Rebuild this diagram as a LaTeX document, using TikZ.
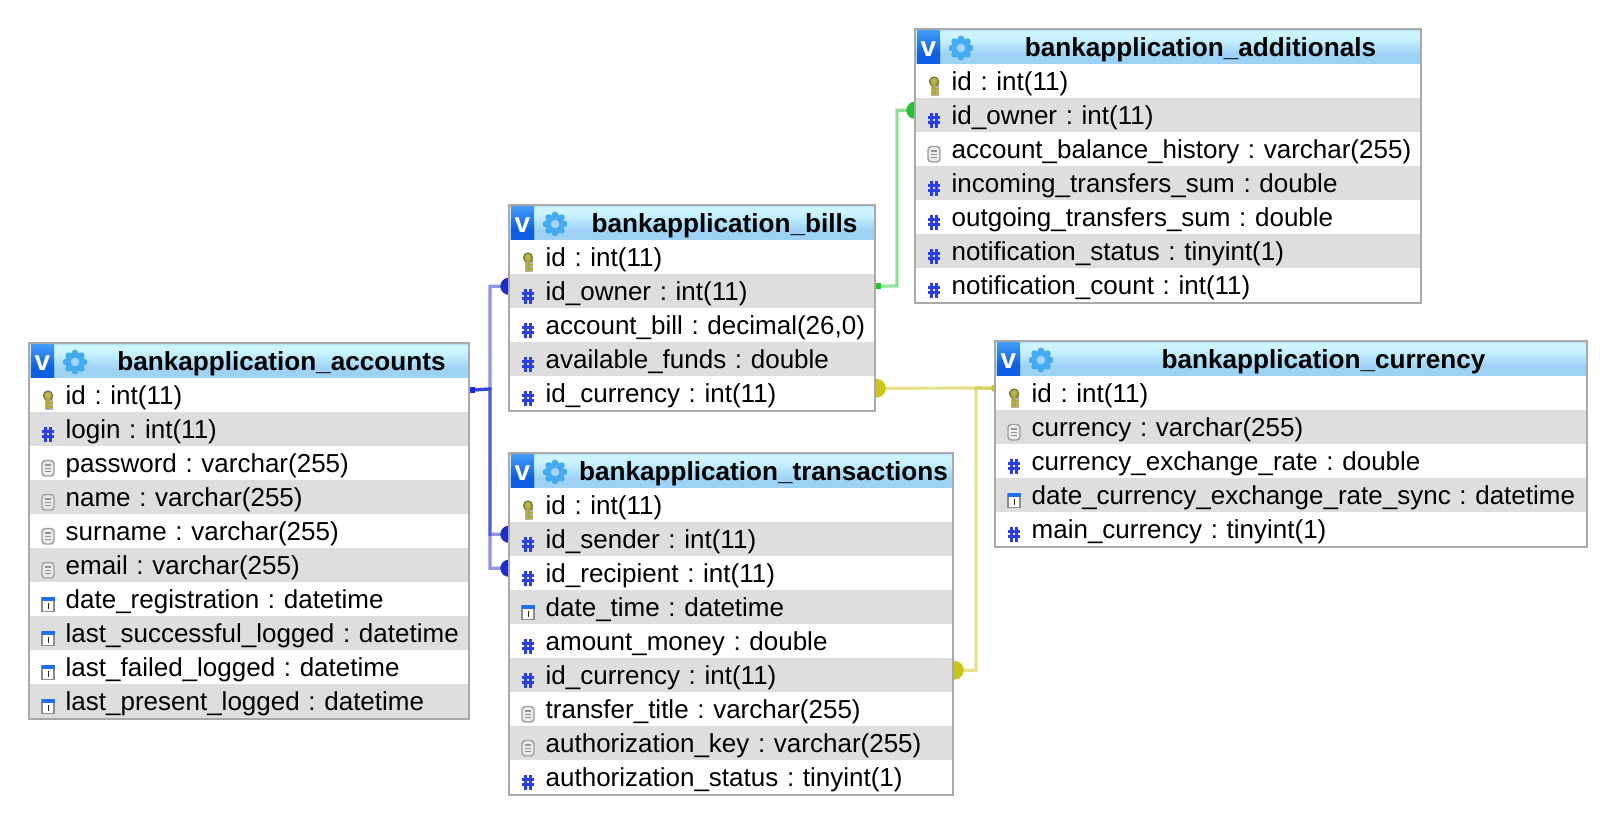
\documentclass[tikz,border=0pt]{standalone}
\usepackage{fontspec}
\setmainfont{Liberation Sans}
\usetikzlibrary{backgrounds}
\frenchspacing

\definecolor{rowgrey}{HTML}{DEDEDE}
\definecolor{tableedge}{HTML}{A9A9A9}
\definecolor{hashblue}{HTML}{2B3FE8}
\definecolor{gearblue}{HTML}{45ABF0}
\definecolor{fkblue}{HTML}{1E2CC8}
\definecolor{fkgreen}{HTML}{22C42E}
\definecolor{fkyellow}{HTML}{CBC41E}
\definecolor{headlow}{HTML}{9ED2F5}
\definecolor{headhigh}{HTML}{CDF5FF}
\definecolor{headtop}{HTML}{AADCF5}
\definecolor{badgelow}{HTML}{0E5EE2}
\definecolor{badgehigh}{HTML}{46A0FA}

\pgfdeclareverticalshading{headshade}{100bp}{
  color(0bp)=(headlow);
  color(38bp)=(headlow);
  color(64bp)=(headhigh);
  color(72bp)=(headhigh);
  color(75bp)=(headtop);
  color(100bp)=(headtop)}
\pgfdeclareverticalshading{badgeshade}{100bp}{
  color(0bp)=(badgelow);
  color(40bp)=(badgelow);
  color(75bp)=(badgehigh);
  color(100bp)=(badgehigh)}

\tikzset{
  x=0.75pt, y=-0.75pt,
  rowbox/.style={anchor=north west, inner sep=0pt, text height=19.5pt, text depth=6pt,
    align=left, font=\fontsize{19.5pt}{22pt}\selectfont},
  headbox/.style={anchor=north west, inner sep=0pt, shading=headshade, minimum height=25.5pt},
  headtext/.style={anchor=base, inner sep=0pt, font=\bfseries\fontsize{19.6pt}{22pt}\selectfont},
  tableframe/.style={draw=tableedge, line width=1.5pt},
  fkline/.style={line width=2.4pt, opacity=0.5},
  pics/keyicon/.style={code={
    \fill[black!30] (-3,-5) rectangle (5,10);
    \fill[black!60!yellow] (0,-4.5) circle (3.9pt);
    \fill[yellow!70!black] (0,-4.5) circle (2.7pt);
    \fill[black!30] (0,-5) circle (0.9pt);
    \fill[yellow!65!black] (-2,-1) rectangle (2,8.5);
    \fill[yellow!65!black] (2,2) rectangle (4.5,4);
    \fill[yellow!65!black] (2,5.5) rectangle (4.5,7.5);
  }},
  pics/hashicon/.style={code={
    \draw[hashblue, line width=1.9pt] (-2.7,-7.5) -- (-2.7,7.5) (2.7,-7.5) -- (2.7,7.5)
      (-6,-2.7) -- (6,-2.7) (-6,2.7) -- (6,2.7);
  }},
  pics/docicon/.style={code={
    \draw[black!38, fill=black!8, line width=1.1pt, rounded corners=2.5pt] (-6,-7.5) rectangle (6,8);
    \draw[black!42, line width=0.9pt] (-3,-3) -- (3,-3) (-3,0.2) -- (3,0.2) (-3,3.4) -- (3,3.4);
  }},
  pics/calicon/.style={code={
    \draw[black!45, fill=white, line width=1pt] (-6,-6.5) rectangle (6,7.5);
    \fill[hashblue!75!cyan] (-6.5,-7) rectangle (6.5,-3);
    \draw[black!85, line width=1.2pt] (0.5,-1) -- (0.5,5);
  }},
  pics/gearicon/.style={code={
    \foreach \a in {0,45,...,315} {
      \fill[gearblue] (\a:6.9pt) circle (2.4pt);
    }
    \fill[gearblue] (0,0) circle (7.2pt);
    \fill[gearblue!50!white] (0,0) circle (3.2pt);
  }},
}

% name, left, top, width, title, number of rows, rows
\newcommand{\dbtable}[7]{
  \node[headbox, minimum width={#4*0.75pt}] (#1-head) at (#2,#3) {};
  \fill[shading=badgeshade] (#2+2,#3) rectangle (#2+25,#3+35);
  \node[anchor=base, inner sep=0pt, text=white, font=\bfseries\fontsize{21pt}{22pt}\selectfont] (#1-badge) at (#2+13.5,#3+27) {v};
  \pic at (#2+46,#3+19) {gearicon};
  \node[headtext] (#1-title) at ({#2+33+#4/2},#3+27) {#5};
  \foreach \rowicon/\rowtext [count=\r from 1] in {#7} {
    \ifodd\r \def\rowfill{white}\else \def\rowfill{rowgrey}\fi
    \node[rowbox, fill=\rowfill, text width={#4*0.75pt}] (#1-\r) at (#2,{#3+35+(\r-1)*34}) {\hspace*{27.3pt}\rowtext};
    \pic at (#2+19,{#3+35+(\r-1)*34+22}) {\rowicon};
  }
  \draw[tableframe] (#1-head.north west) rectangle (#1-#6.south east);
}

\begin{document}
\begin{tikzpicture}
    \useasboundingbox (0,0) rectangle (1618,822);
    \def\portup{3.75pt}

    % Tables
    \dbtable{accounts}{29}{343}{439}{bankapplication\_accounts}{10}{
      keyicon/id : int(11), hashicon/login : int(11), docicon/password : varchar(255),
      docicon/name : varchar(255), docicon/surname : varchar(255), docicon/email : varchar(255),
      calicon/date\_registration : datetime, calicon/last\_successful\_logged : datetime,
      calicon/last\_failed\_logged : datetime, calicon/last\_present\_logged : datetime}
    \dbtable{bills}{509}{205}{365}{bankapplication\_bills}{5}{
      keyicon/id : int(11), hashicon/id\_owner : int(11), hashicon/{account\_bill : decimal(26,0)},
      hashicon/available\_funds : double, hashicon/id\_currency : int(11)}
    \dbtable{transactions}{509}{453}{443}{bankapplication\_transactions}{9}{
      keyicon/id : int(11), hashicon/id\_sender : int(11), hashicon/id\_recipient : int(11),
      calicon/date\_time : datetime, hashicon/amount\_money : double, hashicon/id\_currency : int(11),
      docicon/transfer\_title : varchar(255), docicon/authorization\_key : varchar(255),
      hashicon/authorization\_status : tinyint(1)}
    \dbtable{additionals}{915}{29}{505}{bankapplication\_additionals}{7}{
      keyicon/id : int(11), hashicon/id\_owner : int(11), docicon/account\_balance\_history : varchar(255),
      hashicon/incoming\_transfers\_sum : double, hashicon/outgoing\_transfers\_sum : double,
      hashicon/notification\_status : tinyint(1), hashicon/notification\_count : int(11)}
    \dbtable{currency}{995}{341}{591}{bankapplication\_currency}{5}{
      keyicon/id : int(11), docicon/currency : varchar(255), hashicon/currency\_exchange\_rate : double,
      calicon/date\_currency\_exchange\_rate\_sync : datetime, hashicon/main\_currency : tinyint(1)}

    % Connectors, behind the tables
    \begin{scope}[on background layer]
      \coordinate (bluebus) at (490,389);
      \coordinate (greenbus) at (897,286);
      \coordinate (yellowbus) at (976,388);

      \draw[fkline, fkblue] ([yshift=\portup]accounts-1.east) -- (bluebus) |- ([yshift=\portup]bills-2.west);
      \draw[fkline, fkblue] ([yshift=\portup]accounts-1.east) -- (bluebus) |- ([yshift=\portup]transactions-2.west);
      \draw[fkline, fkblue] ([yshift=\portup]accounts-1.east) -- (bluebus) |- ([yshift=\portup]transactions-3.west);
      \draw[fkline, fkgreen] ([yshift=\portup]bills-2.east) -- (greenbus) |- ([yshift=\portup]additionals-2.west);
      \draw[fkline, fkyellow] ([yshift=\portup]currency-1.west) -- (yellowbus) -- ([yshift=\portup]bills-5.east);
      \draw[fkline, fkyellow] ([yshift=\portup]currency-1.west) -- (yellowbus) |- ([yshift=\portup]transactions-6.east);

      % Line ends
      \foreach \n in {bills-2, transactions-2, transactions-3} {
        \fill[fkblue] ([yshift=\portup]\n.west) circle (6.5pt);
      }
      \fill[fkgreen] ([yshift=\portup]additionals-2.west) circle (6.5pt);
      \foreach \n in {bills-5, transactions-6} {
        \fill[fkyellow] ([xshift=1.5pt,yshift=\portup]\n.east) circle (7pt);
      }
      \fill[fkyellow] ([yshift=\portup]currency-1.west) circle (3pt);
      \fill[fkblue] ([yshift=\portup]accounts-1.east) ++(0,-3) rectangle ++(6,6);
      \fill[fkgreen] ([yshift=\portup]bills-2.east) ++(0,-3) rectangle ++(6,6);
    \end{scope}
\end{tikzpicture}
\end{document}
